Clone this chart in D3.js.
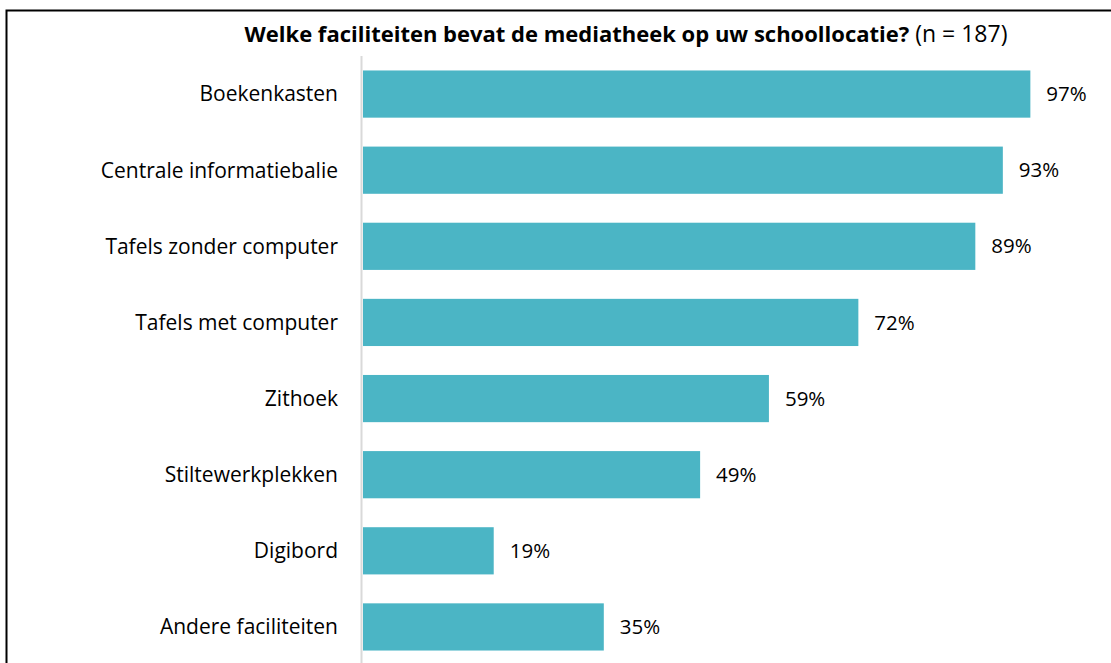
<!DOCTYPE html>
<html><head><meta charset="utf-8">
<script src="https://cdn.jsdelivr.net/npm/d3@7"></script>
<style>body{margin:0;background:#fff;}svg{display:block;}</style>
</head><body>
<svg id="chart" width="1111" height="663"></svg>
<script>
const categories = ["Boekenkasten","Centrale informatiebalie","Tafels zonder computer","Tafels met computer","Zithoek","Stiltewerkplekken","Digibord","Andere faciliteiten"];
const values = [97, 93, 89, 72, 59, 49, 19, 35];
const titleBold = "Welke faciliteiten bevat de mediatheek op uw schoollocatie?";
const titleNormal = " (n = 187)";

const svg = d3.select("#chart");
const font = "'Open Sans', sans-serif";
const x0 = 363;
const x = d3.scaleLinear().domain([0, 100]).range([x0, x0 + 688]);
const y = d3.scaleBand().domain(categories).range([56, 665]).paddingInner(0.38).paddingOuter(0.19);

// frame
svg.append("path").attr("d","M6.5,663 V10.5 H1111").attr("fill","none").attr("stroke","#000").attr("stroke-width",2);

const t = svg.append("text").attr("x", 626).attr("y", 41.5).attr("text-anchor","middle")
  .style("font-family", font).style("font-size","22px").attr("fill","#000");
t.append("tspan").attr("font-weight","bold").text(titleBold);
t.append("tspan").style("font-size","23px").text(titleNormal);

svg.selectAll("rect.bar").data(values).join("rect").attr("class","bar")
  .attr("x", x(0)).attr("y", (d,i)=>y(categories[i]))
  .attr("width", d=>x(d)-x(0)).attr("height", y.bandwidth())
  .attr("fill","#4BB5C5");

svg.append("line").attr("x1", 361.5).attr("x2", 361.5).attr("y1", 56).attr("y2", 663)
  .attr("stroke","#d9d9d9").attr("stroke-width",2);

svg.selectAll("text.cat").data(categories).join("text").attr("class","cat")
  .attr("x", 338).attr("y", d=>y(d)+y.bandwidth()/2).attr("dy","0.35em")
  .attr("text-anchor","end").style("font-family", font).style("font-size","21px").attr("fill","#000")
  .text(d=>d);

svg.selectAll("text.val").data(values).join("text").attr("class","val")
  .attr("x", d=>x(d)+16).attr("y", (d,i)=>y(categories[i])+y.bandwidth()/2).attr("dy","0.35em")
  .style("font-family", font).style("font-size","20.5px").attr("fill","#000")
  .text(d=>d+"%");
</script>
</body></html>
